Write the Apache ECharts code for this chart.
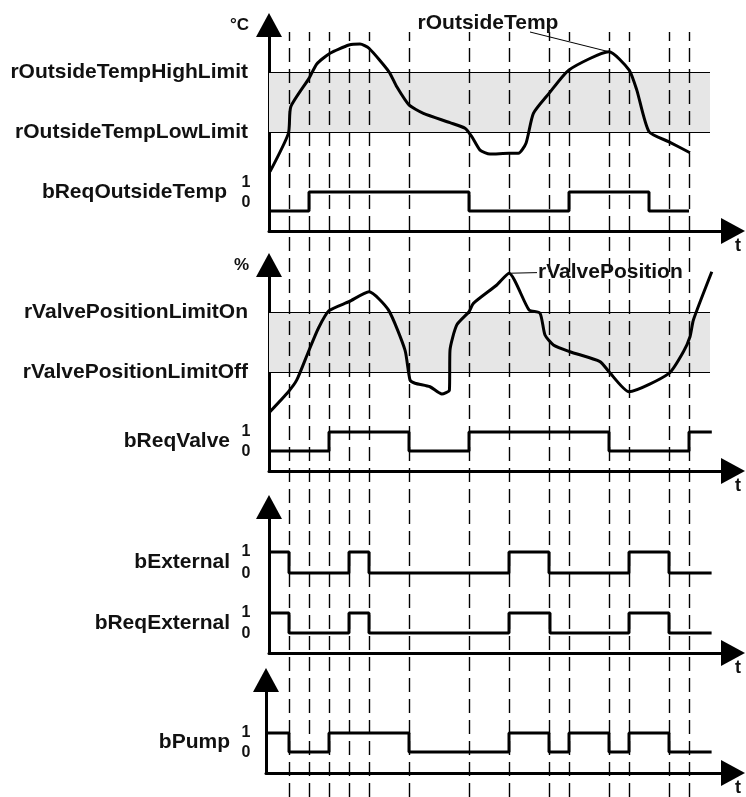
<!DOCTYPE html>
<html><head><meta charset="utf-8">
<script src="https://cdn.jsdelivr.net/npm/echarts@6/dist/echarts.min.js"></script>
<style>html,body{margin:0;padding:0;background:#fff}#c{width:746px;height:797px}</style>
</head><body><div id="c"></div>
<script>
// ---------------- DATA ----------------
const dashTimes = [1, 2, 3, 4, 5, 7, 10, 12, 14, 15, 17, 18, 20, 21];

const tempHighLimit = 77.2;
const tempLowLimit = 48.1;
const tempTime  = [0.05,0.97,1.09,2.0,2.39,3.05,4.0,4.55,5.0,6.0,6.39,7.0,7.72,9.05,9.8,10.14,10.55,11.05,12.0,12.47,12.85,13.22,14.0,15.0,17.0,18.0,18.39,19.0,20.0,21.05];
const tempValue = [28.8,47.4,60.3,74.1,81.1,86.3,90.3,90.8,88.7,77.3,70.0,61.2,57.1,52.6,49.9,45.8,39.3,37.4,37.7,37.7,42.6,57.1,66.8,78.2,87.0,78.2,68.4,48.2,43.3,38.0];

const reqOutsideTempTime  = [0, 2, 10, 15, 19, 21];
const reqOutsideTempValue = [0, 1, 0, 1, 0, 0];

const valveLimitOn = 77.2;
const valveLimitOff = 48.1;
const valveTime  = [0.05,0.97,1.39,1.97,2.47,3.0,4.0,5.0,5.97,6.8,7.05,7.3,8.05,8.64,9.02,9.05,9.39,10.0,10.22,11.39,12.0,13.0,13.55,13.8,14.22,15.05,16.55,17.0,18.0,20.0,20.72,21.05,21.22,22.14];
const valveValue = [28.8,38.5,44.2,57.9,69.3,77.8,82.2,87.0,78.2,58.7,44.2,42.6,40.9,37.4,39.3,58.7,70.9,77.3,81.4,90.3,96.0,78.2,76.6,66.0,61.2,57.9,53.1,48.2,38.5,47.4,57.9,65.2,73.3,96.7];

const reqValveTime  = [0, 3, 7, 10, 17, 21, 22.14];
const reqValveValue = [0, 1, 0, 1, 0, 1, 1];

const externalTime  = [0, 1, 4, 5, 12, 14, 18, 20, 22.13];
const externalValue = [1, 0, 1, 0, 1, 0, 1, 0, 0];

const reqExternalTime  = [0, 1, 4, 5, 12, 14.05, 18, 20, 22.13];
const reqExternalValue = [1, 0, 1, 0, 1, 0, 1, 0, 0];

const pumpTime  = [-0.15, 1, 3, 7, 12, 14, 15, 17, 18, 20, 22.13];
const pumpValue = [1, 0, 1, 0, 1, 0, 1, 0, 1, 0, 0];

// ---------------- LAYOUT ----------------
const H = 797;
const FONT = "'Liberation Sans', Arial, sans-serif";
const TXT = '#111';
const BAND_END = 22.05;
const grids = [
  {left: 269, right: 13, top: 25,  bottom: H - 231},
  {left: 269, right: 13, top: 265, bottom: H - 471},
  {left: 269, right: 13, top: 507, bottom: H - 653},
  {left: 266, right: 13, top: 680, bottom: H - 773},
  {left: 269, right: 13, top: 32,  bottom: 0}
];
const xMins = [0, 0, 0, -0.15, 0];
const X_MAX = 23.2;
function binRange(g, y0, y1) {
  const top = grids[g].top, bot = H - grids[g].bottom;
  const ppu = y0 - y1;
  const min = -(bot - y0) / ppu;
  return {min: min, max: min + (bot - top) / ppu};
}
const bin1 = binRange(0, 211, 192);
const bin2 = binRange(1, 451, 432);
const bin3a = binRange(2, 573, 552);
const bin3b = binRange(2, 633, 613);
const bin4 = binRange(3, 752, 733);

const zip = (a, b) => a.map((v, i) => [v, b[i]]);

const axisLineVisible = {
  show: true, onZero: false,
  symbol: ['none', 'triangle'], symbolSize: [26, 24],
  lineStyle: {color: '#000', width: 3}
};
function xAxisFor(i) {
  const visible = i < 4;
  return {
    type: 'value', gridIndex: i, min: xMins[i], max: X_MAX,
    show: visible,
    axisLine: axisLineVisible,
    axisTick: {show: false}, axisLabel: {show: false}, splitLine: {show: false},
    name: visible ? 't' : '', nameLocation: 'end', nameGap: 5,
    nameTextStyle: {fontFamily: FONT, fontWeight: 'bold', fontSize: 18, color: TXT,
      align: 'center', verticalAlign: 'top', padding: [6, 0, 0, 0]}
  };
}
function yAxisFor(grid, range, visible, name) {
  return {
    type: 'value', gridIndex: grid, min: range.min, max: range.max,
    show: visible,
    axisLine: axisLineVisible,
    axisTick: {show: false}, axisLabel: {show: false}, splitLine: {show: false},
    name: name || '', nameLocation: 'end', nameGap: 0,
    nameTextStyle: {fontFamily: FONT, fontWeight: 'bold', fontSize: 17, color: TXT,
      align: 'right', verticalAlign: 'middle', padding: [0, 20, 0, 0]}
  };
}

const signalLine = {color: '#000', width: 3};
const labelFont = {fontFamily: FONT, fontWeight: 'bold', fontSize: 21, color: TXT};

function stepSeries(name, x, y, t, v) {
  return {name, type: 'line', xAxisIndex: x, yAxisIndex: y, step: 'end',
    data: zip(t, v), symbol: 'none', lineStyle: signalLine, z: 4};
}
function limitLines(high, low, highName, lowName) {
  return [
    [{coord: [0, high], label: Object.assign({show: true, position: 'start', distance: 21, formatter: highName}, labelFont)},
     {coord: [BAND_END, high]}],
    [{coord: [0, low], label: Object.assign({show: true, position: 'start', distance: 21, formatter: lowName}, labelFont)},
     {coord: [BAND_END, low]}]
  ];
}

const option = {
  animation: false,
  backgroundColor: '#fff',
  grid: grids,
  xAxis: [0, 1, 2, 3, 4].map(xAxisFor),
  yAxis: [
    yAxisFor(0, {min: 0, max: 100}, true, '°C'),
    yAxisFor(0, bin1, false),
    yAxisFor(1, {min: 0, max: 100}, true, '%'),
    yAxisFor(1, bin2, false),
    yAxisFor(2, bin3a, true),
    yAxisFor(2, bin3b, false),
    yAxisFor(3, bin4, true),
    yAxisFor(4, {min: 0, max: 1}, false)
  ],
  series: [
    {
      name: 'rOutsideTemp', type: 'line', xAxisIndex: 0, yAxisIndex: 0,
      data: zip(tempTime, tempValue), smooth: 0.2, symbol: 'none', lineStyle: signalLine, z: 4,
      markArea: {silent: true, itemStyle: {color: '#e6e6e6'},
        data: [[{coord: [0, tempLowLimit]}, {coord: [BAND_END, tempHighLimit]}]]},
      markLine: {silent: true, symbol: ['none', 'none'],
        lineStyle: {color: '#000', width: 1, type: 'solid'},
        label: {show: false},
        data: limitLines(tempHighLimit, tempLowLimit, 'rOutsideTempHighLimit', 'rOutsideTempLowLimit').concat([
          [{coord: [13.05, 96.6], label: {show: false}}, {coord: [17.0, 87.0]}]
        ])},
      markPoint: {silent: true, symbol: 'circle', symbolSize: 1, itemStyle: {color: 'rgba(0,0,0,0)'},
        data: [{coord: [10.95, 99.6], label: Object.assign({show: true, position: 'inside', offset: [0, -3], formatter: 'rOutsideTemp'}, labelFont)}]}
    },
    stepSeries('bReqOutsideTemp', 0, 1, reqOutsideTempTime, reqOutsideTempValue),
    {
      name: 'rValvePosition', type: 'line', xAxisIndex: 1, yAxisIndex: 2,
      data: zip(valveTime, valveValue), smooth: 0.2, symbol: 'none', lineStyle: signalLine, z: 4,
      markArea: {silent: true, itemStyle: {color: '#e6e6e6'},
        data: [[{coord: [0, valveLimitOff]}, {coord: [BAND_END, valveLimitOn]}]]},
      markLine: {silent: true, symbol: ['none', 'none'],
        lineStyle: {color: '#000', width: 1, type: 'solid'},
        label: {show: false},
        data: limitLines(valveLimitOn, valveLimitOff, 'rValvePositionLimitOn', 'rValvePositionLimitOff').concat([
          [{coord: [12.0, 96.0], label: Object.assign({show: true, position: 'end', distance: 1, formatter: 'rValvePosition'}, labelFont)},
           {coord: [13.4, 96.3]}]
        ])}
    },
    stepSeries('bReqValve', 1, 3, reqValveTime, reqValveValue),
    stepSeries('bExternal', 2, 4, externalTime, externalValue),
    stepSeries('bReqExternal', 2, 5, reqExternalTime, reqExternalValue),
    stepSeries('bPump', 3, 6, pumpTime, pumpValue),
    {
      name: 'dash', type: 'line', xAxisIndex: 4, yAxisIndex: 7, data: [], z: 5, silent: true,
      markLine: {silent: true, symbol: ['none', 'none'], label: {show: false},
        lineStyle: {color: '#000', width: 1.4, type: [14, 7]},
        data: dashTimes.map(t => ({xAxis: t}))}
    }
  ]
};

const chart = echarts.init(document.getElementById('c'));
chart.setOption(option);

const binaryLabels = [
  {name: 'bReqOutsideTemp', yAxisIndex: 1, shift: -9.5, right: 227},
  {name: 'bReqValve', yAxisIndex: 3, shift: 0, right: 230},
  {name: 'bExternal', yAxisIndex: 4, shift: 0, right: 230},
  {name: 'bReqExternal', yAxisIndex: 5, shift: 0, right: 230},
  {name: 'bPump', yAxisIndex: 6, shift: 0, right: 230}
];
const graphics = [];
binaryLabels.forEach(b => {
  const y1 = chart.convertToPixel({yAxisIndex: b.yAxisIndex}, 1);
  const y0 = chart.convertToPixel({yAxisIndex: b.yAxisIndex}, 0);
  graphics.push({type: 'text', x: b.right, y: (y0 + y1) / 2 + b.shift,
    style: {text: b.name, font: 'bold 21px ' + FONT, fill: TXT, align: 'right', verticalAlign: 'middle', textAlign: 'right', textVerticalAlign: 'middle'}});
  graphics.push({type: 'text', x: 246, y: y1 + b.shift,
    style: {text: '1', font: 'bold 16px ' + FONT, fill: TXT, align: 'center', verticalAlign: 'middle', textAlign: 'center', textVerticalAlign: 'middle'}});
  graphics.push({type: 'text', x: 246, y: y0 + b.shift + 1,
    style: {text: '0', font: 'bold 16px ' + FONT, fill: TXT, align: 'center', verticalAlign: 'middle', textAlign: 'center', textVerticalAlign: 'middle'}});
});
chart.setOption({graphic: graphics});
</script>
</body></html>
